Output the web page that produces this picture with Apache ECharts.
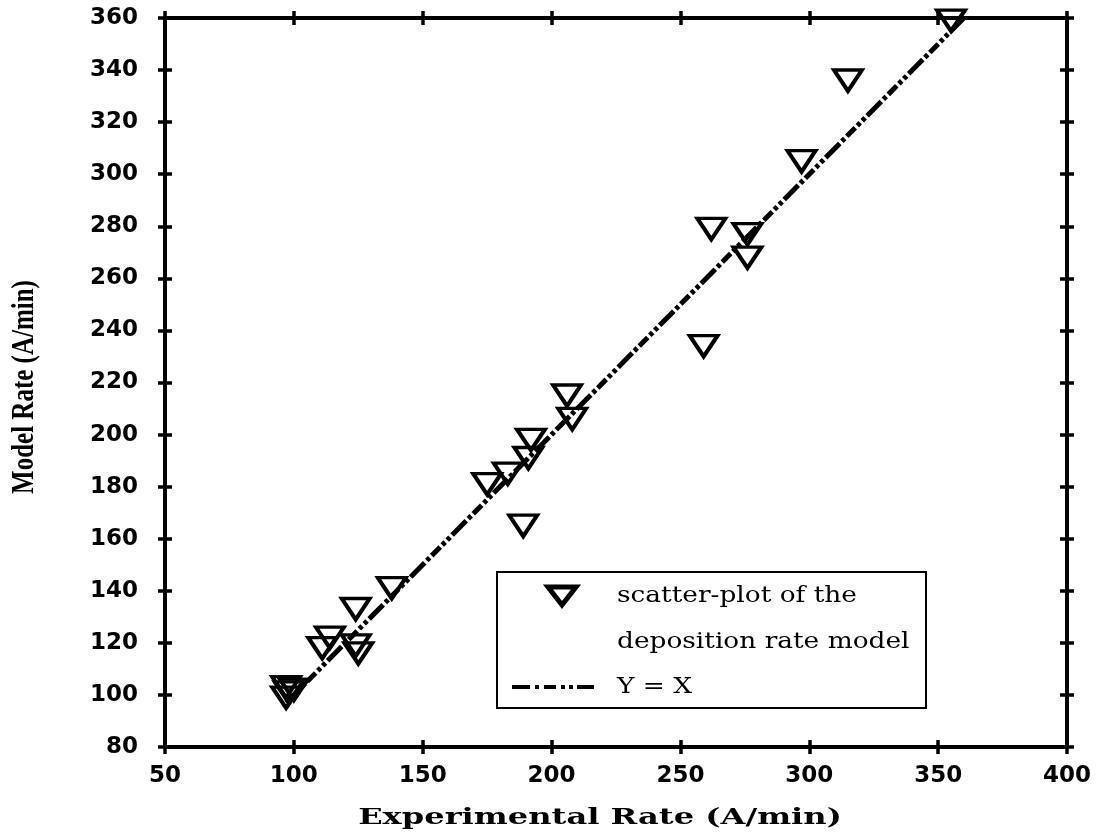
<!DOCTYPE html>
<html>
<head>
<meta charset="utf-8">
<title>Model vs Experimental Deposition Rate</title>
<script src="https://cdn.jsdelivr.net/npm/echarts@6/dist/echarts.min.js"></script>
<style>
  html, body { margin: 0; padding: 0; background: #fff; }
  #chart { width: 1102px; height: 840px; }
</style>
</head>
<body>
<div id="chart"></div>
<script>
// Measured deposition rates (A/min) and the model's predictions
const experimentalRate = [97, 98, 100, 97, 111, 114, 124, 124, 125, 138, 175, 183, 189, 191, 192, 206, 208, 259, 262, 276, 276, 297, 315, 355];
const modelRate        = [103, 101, 102, 99, 118, 122, 133, 119, 116, 141, 181, 185, 165, 191, 198, 215, 206, 234, 279, 277, 268, 305, 336, 359];

// Reference line Y = X
const identityX = [97, 360];
const identityY = [97, 360];

// Axis ranges and tick spacing
const xRange = { min: 50, max: 400, interval: 50 };
const yRange = { min: 80, max: 360, interval: 20 };

const scatterName = 'scatter-plot of the\ndeposition rate model';
const lineName = 'Y = X';

const INK = '#000';
const dashPattern = [20, 3, 4, 3, 12, 3, 4, 3, 4, 3];

const tickFont = { fontFamily: '"DejaVu Sans"', fontWeight: 'bold', fontSize: 23, color: INK };

// Each side of the frame is drawn by two axes: one with ticks pointing out,
// one with ticks pointing in, so that ticks cross the frame line.
function makeAxis(range, position, inside, withLabels, withLine) {
  return {
    type: 'value',
    position: position,
    min: range.min,
    max: range.max,
    interval: range.interval,
    axisLine: { show: withLine, onZero: false, lineStyle: { color: INK, width: 4 } },
    axisTick: { show: true, inside: inside, length: 7, lineStyle: { color: INK, width: 3.5 } },
    axisLabel: withLabels
      ? Object.assign({ show: true, margin: position === 'left' ? 27 : 18 }, tickFont)
      : { show: false },
    splitLine: { show: false }
  };
}

const scatterPoints = experimentalRate.map((x, i) => [x, modelRate[i]]);
const identityPoints = identityX.map((x, i) => [x, identityY[i]]);

const option = {
  animation: false,
  backgroundColor: '#fff',
  grid: { left: 165, right: 35, top: 18, bottom: 93, containLabel: false },
  xAxis: [
    makeAxis(xRange, 'bottom', false, true, true),
    makeAxis(xRange, 'bottom', true, false, false),
    makeAxis(xRange, 'top', false, false, true),
    makeAxis(xRange, 'top', true, false, false)
  ],
  yAxis: [
    makeAxis(yRange, 'left', false, true, true),
    makeAxis(yRange, 'left', true, false, false),
    makeAxis(yRange, 'right', false, false, true),
    makeAxis(yRange, 'right', true, false, false)
  ],
  series: [
    {
      name: lineName,
      type: 'line',
      data: identityPoints,
      showSymbol: false,
      symbol: 'none',
      z: 2,
      lineStyle: { color: INK, width: 5, type: dashPattern, opacity: 1 }
    },
    {
      name: scatterName,
      type: 'scatter',
      data: scatterPoints,
      symbol: 'triangle',
      symbolRotate: 180,
      symbolSize: [28, 21],
      z: 3,
      itemStyle: { color: 'rgba(0,0,0,0)', borderColor: INK, borderWidth: 3.8, opacity: 1 }
    }
  ],
  graphic: [
    // Axis titles
    {
      type: 'text', x: 600, y: 818, scaleX: 1.46,
      style: {
        text: 'Experimental Rate (A/min)', fill: INK,
        font: 'bold 22px "DejaVu Serif"',
        textAlign: 'center', textVerticalAlign: 'middle', align: 'center', verticalAlign: 'middle'
      }
    },
    {
      type: 'text', x: 25, y: 387, rotation: Math.PI / 2, scaleY: 1.3,
      style: {
        text: 'Model Rate (A/min)', fill: INK,
        font: 'bold 25px "Liberation Serif"',
        textAlign: 'center', textVerticalAlign: 'middle', align: 'center', verticalAlign: 'middle'
      }
    },
    // Legend box
    {
      type: 'group', z: 10,
      children: [
        { type: 'rect', shape: { x: 497, y: 572, width: 429, height: 136 },
          style: { fill: '#fff', stroke: INK, lineWidth: 2 } },
        { type: 'polygon', shape: { points: [[548, 587], [576, 587], [562, 605]] },
          style: { fill: 'rgba(0,0,0,0)', stroke: INK, lineWidth: 5, lineJoin: 'miter' } },
        { type: 'text', x: 617, y: 596, scaleX: 1.2,
          style: { text: 'scatter-plot of the', fill: INK, font: '22px "DejaVu Serif"',
                   textAlign: 'left', textVerticalAlign: 'middle', align: 'left', verticalAlign: 'middle' } },
        { type: 'text', x: 617, y: 642, scaleX: 1.2,
          style: { text: 'deposition rate model', fill: INK, font: '22px "DejaVu Serif"',
                   textAlign: 'left', textVerticalAlign: 'middle', align: 'left', verticalAlign: 'middle' } },
        { type: 'line', shape: { x1: 512, y1: 687, x2: 594, y2: 687 },
          style: { stroke: INK, lineWidth: 4, lineDash: [18, 5, 4, 5, 12, 5, 4, 4, 4, 4] } },
        { type: 'text', x: 617, y: 687, scaleX: 1.2,
          style: { text: lineName, fill: INK, font: '22px "DejaVu Serif"',
                   textAlign: 'left', textVerticalAlign: 'middle', align: 'left', verticalAlign: 'middle' } }
      ]
    }
  ]
};

const chart = echarts.init(document.getElementById('chart'), null, { renderer: 'canvas' });
chart.setOption(option);
</script>
</body>
</html>
